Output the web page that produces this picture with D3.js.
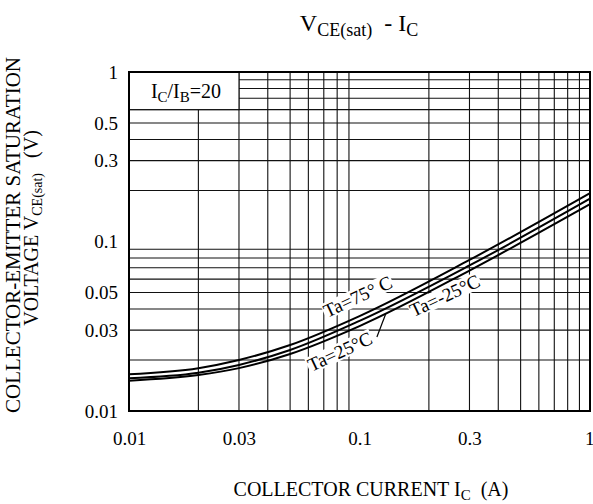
<!DOCTYPE html>
<html>
<head>
<meta charset="utf-8">
<script src="https://cdn.jsdelivr.net/npm/d3@7"></script>
<style>
  body { margin: 0; background: #fff; }
  text { font-family: "Liberation Serif", "Times New Roman", serif; fill: #000; }
</style>
</head>
<body>
<svg id="chart" width="593" height="504"></svg>
<script>
// collector current Ic (A) and Vce(sat) (V) for each ambient temperature
const current = [0.01, 0.02, 0.03, 0.05, 0.1, 0.3, 1];
const vce75   = [0.0165, 0.0179, 0.0200, 0.0245, 0.0363, 0.0778, 0.193];
const vce25   = [0.0156, 0.0168, 0.0187, 0.0229, 0.0340, 0.0722, 0.179];
const vceM25  = [0.0151, 0.0163, 0.0179, 0.0217, 0.0317, 0.0674, 0.166];

const xTicks = [0.01, 0.03, 0.1, 0.3, 1];
const yTicks = [0.01, 0.03, 0.05, 0.1, 0.3, 0.5, 1];
const decades = [0.01, 0.1];
const multipliers = [2, 3, 4, 5, 6, 7, 8, 9];

// label anchors in data units
const curveLabels = [
    { text: 'Ta=75° C', x: 0.0985, y: 0.0471 },
    { text: 'Ta=25°C', x: 0.0823, y: 0.0223 },
    { text: 'Ta=-25°C', x: 0.235, y: 0.0477 }
];
const leader = [[0.119, 0.0273], [0.130, 0.0375]];

const margin = { top: 72, right: 3, bottom: 93, left: 129 };
const W = 593, H = 504;
const width = W - margin.left - margin.right;
const height = H - margin.top - margin.bottom;

const svg = d3.select('#chart');
const g = svg.append('g').attr('transform', `translate(${margin.left},${margin.top})`);

const x = d3.scaleLog().domain([0.01, 1]).range([0, width]);
const y = d3.scaleLog().domain([0.01, 1]).range([height, 0]);

const minor = decades.flatMap(d => multipliers.map(m => d * m));

// grid
g.append('g').selectAll('line').data(minor).join('line')
    .attr('x1', d => x(d)).attr('x2', d => x(d))
    .attr('y1', 0).attr('y2', height)
    .attr('stroke', '#111').attr('stroke-width', 1.1);
g.append('g').selectAll('line').data(minor).join('line')
    .attr('y1', d => y(d)).attr('y2', d => y(d))
    .attr('x1', 0).attr('x2', width)
    .attr('stroke', '#111').attr('stroke-width', 1.1);

// Ic/Ib box, covers the grid in the top-left corner
g.append('rect')
    .attr('x', x(0.01)).attr('y', y(1))
    .attr('width', x(0.03) - x(0.01)).attr('height', y(0.6) - y(1))
    .attr('fill', '#fff').attr('stroke', '#111').attr('stroke-width', 1.1);
const boxText = g.append('text')
    .attr('x', (x(0.01) + x(0.03)) / 2 + 2).attr('y', (y(1) + y(0.6)) / 2 + 7)
    .attr('text-anchor', 'middle').style('font-size', '20px');
boxText.append('tspan').text('I');
boxText.append('tspan').text('C').attr('dy', 4).style('font-size', '15px');
boxText.append('tspan').text('/I').attr('dy', -4);
boxText.append('tspan').text('B').attr('dy', 4).style('font-size', '15px');
boxText.append('tspan').text('=20').attr('dy', -4);

// curve labels, white background hides the grid behind them
curveLabels.forEach(lab => {
    const lg = g.append('g')
        .attr('transform', `translate(${x(lab.x)},${y(lab.y)}) rotate(-25)`);
    const bg = lg.append('rect').attr('fill', '#fff');
    const t = lg.append('text').attr('text-anchor', 'middle').attr('dy', 6)
        .style('font-size', '19px').text(lab.text);
    const bb = t.node().getBBox();
    bg.attr('x', bb.x - 1).attr('y', bb.y + 2).attr('width', bb.width + 2).attr('height', bb.height - 4);
});

// leader for 25°C
g.append('line')
    .attr('x1', x(leader[0][0])).attr('y1', y(leader[0][1]))
    .attr('x2', x(leader[1][0])).attr('y2', y(leader[1][1]))
    .attr('stroke', '#000').attr('stroke-width', 1.2);

// curves
const line = d3.line()
    .x((d, i) => x(current[i]))
    .y(d => y(d))
    .curve(d3.curveMonotoneX);

[vce75, vce25, vceM25].forEach(series => {
    g.append('path').datum(series)
        .attr('d', line)
        .attr('fill', 'none')
        .attr('stroke', '#000')
        .attr('stroke-width', 2);
});

// frame
g.append('rect')
    .attr('width', width).attr('height', height)
    .attr('fill', 'none').attr('stroke', '#000').attr('stroke-width', 2);

// axes labels
const fmt = d => d3.format('~g')(d);
const xAxis = g.append('g')
    .attr('transform', `translate(0,${height})`)
    .call(d3.axisBottom(x).tickValues(xTicks).tickSize(0).tickPadding(21).tickFormat(fmt));
const yAxis = g.append('g')
    .call(d3.axisLeft(y).tickValues(yTicks).tickSize(0).tickPadding(11).tickFormat(fmt));
[xAxis, yAxis].forEach(a => {
    a.attr('font-family', null).attr('font-size', null);
    a.select('.domain').remove();
    a.selectAll('text').style('font-size', '19px');
});
// last x label sits at the page edge
xAxis.selectAll('.tick text').filter(d => d === 1).attr('text-anchor', 'end').attr('dx', 4);

// title
const title = svg.append('text').attr('x', 359).attr('y', 31)
    .attr('text-anchor', 'middle').style('font-size', '24px');
title.append('tspan').text('V');
title.append('tspan').text('CE(sat)').attr('dy', 5).style('font-size', '18px');
title.append('tspan').text('  - I').attr('dy', -5).attr('xml:space', 'preserve');
title.append('tspan').text('C').attr('dy', 5).style('font-size', '18px');

// x axis title
const xt = svg.append('text').attr('x', 371).attr('y', 496)
    .attr('text-anchor', 'middle').style('font-size', '20px');
xt.append('tspan').text('COLLECTOR CURRENT I');
xt.append('tspan').text('C').attr('dy', 4).style('font-size', '15px');
xt.append('tspan').text('  (A)').attr('dy', -4).attr('xml:space', 'preserve');

// y axis title, two lines
svg.append('text')
    .attr('transform', 'translate(20,235) rotate(-90)')
    .attr('text-anchor', 'middle').style('font-size', '21px')
    .text('COLLECTOR-EMITTER SATURATION');
const yt2 = svg.append('text')
    .attr('transform', 'translate(38,228) rotate(-90)')
    .attr('text-anchor', 'middle').style('font-size', '20px');
yt2.append('tspan').text('VOLTAGE V');
yt2.append('tspan').text('CE(sat)').attr('dy', 4).style('font-size', '14px');
yt2.append('tspan').text('   (V)').attr('dy', -4).attr('xml:space', 'preserve');
</script>
</body>
</html>
